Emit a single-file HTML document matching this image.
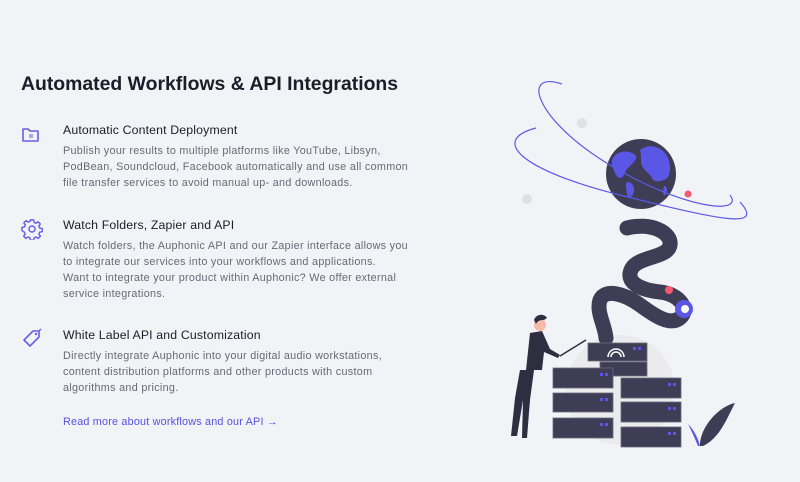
<!DOCTYPE html>
<html><head><meta charset="utf-8"><style>
html,body{margin:0;padding:0;width:800px;height:482px;background:#f2f3f6;overflow:hidden;font-family:"Liberation Sans",sans-serif;}
.t{position:absolute;left:21px;top:73px;font-size:19.4px;font-weight:bold;color:#1b1d2a;}
.h{position:absolute;left:63px;font-size:12.3px;color:#1b1d2a;letter-spacing:0.15px;white-space:nowrap;}
.p{position:absolute;left:63px;font-size:10.8px;line-height:16px;color:#676a78;white-space:nowrap;letter-spacing:0.3px;}
.ic{position:absolute;left:21px;}
a{position:absolute;left:63px;top:416px;font-size:10.8px;color:#5552e0;text-decoration:none;letter-spacing:0.2px;}
</style></head><body>
<div class="t">Automated Workflows &amp; API Integrations</div>

<svg class="ic" style="top:126px" width="20" height="18" viewBox="0 0 20 18"><path d="M2 3h5l2 2h8v10H2z" fill="none" stroke="#6460e8" stroke-width="1.6" stroke-linejoin="round"/><path d="M8 9h4M8 11h4" stroke="#6460e8" stroke-width="1"/></svg>
<div class="h" style="top:123px">Automatic Content Deployment</div>
<div class="p" style="top:143px">Publish your results to multiple platforms like YouTube, Libsyn,<br>PodBean, Soundcloud, Facebook automatically and use all common<br>file transfer services to avoid manual up- and downloads.</div>

<svg class="ic" style="top:218px" width="22" height="22" viewBox="0 0 24 24"><path d="M10.3 2h3.4l.6 2.8 2 .9 2.4-1.6 2.4 2.4-1.6 2.4.9 2 2.8.6v3.4l-2.8.6-.9 2 1.6 2.4-2.4 2.4-2.4-1.6-2 .9-.6 2.8h-3.4l-.6-2.8-2-.9-2.4 1.6-2.4-2.4 1.6-2.4-.9-2L1 13.7v-3.4l2.8-.6.9-2-1.6-2.4 2.4-2.4 2.4 1.6 2-.9z" fill="none" stroke="#6460e8" stroke-width="1.6" stroke-linejoin="round"/><circle cx="12" cy="12" r="3.3" fill="none" stroke="#6460e8" stroke-width="1.6"/></svg>
<div class="h" style="top:218px">Watch Folders, Zapier and API</div>
<div class="p" style="top:238px">Watch folders, the Auphonic API and our Zapier interface allows you<br>to integrate our services into your workflows and applications.<br>Want to integrate your product within Auphonic? We offer external<br>service integrations.</div>

<svg class="ic" style="top:328px" width="22" height="22" viewBox="0 0 22 22"><path d="M12 3h6v6L9 18l-6-6z" fill="none" stroke="#6460e8" stroke-width="1.6" stroke-linejoin="round"/><circle cx="15" cy="6" r="1.2" fill="#6460e8"/><path d="M18 3l2-2" stroke="#6460e8" stroke-width="1.4"/></svg>
<div class="h" style="top:328px">White Label API and Customization</div>
<div class="p" style="top:348px">Directly integrate Auphonic into your digital audio workstations,<br>content distribution platforms and other products with custom<br>algorithms and pricing.</div>

<a>Read more about workflows and our API →</a>

<svg style="position:absolute;left:0;top:0" width="800" height="482">
<circle cx="620" cy="390" r="55" fill="#ebebee"/>
<circle cx="582" cy="123" r="5" fill="#e0e0e3"/>
<circle cx="527" cy="199" r="5" fill="#e0e0e3"/>
<circle cx="688" cy="194" r="3.5" fill="#f55a6e"/>
<circle cx="641" cy="174" r="35" fill="#3f3d56"/>
<path d="M612 160c4-10 16-10 22-6s-2 10-6 14-4 10-8 10-6-8-8-12zM640 150c10-8 24-2 28 8s2 20-4 22-10 2-12-2-8-8-10-12 0-10-2-16zM628 182c4 0 8 6 5 12s-6 4-6 0-3-12 1-12zM664 186c3 0 4 4 2 8s-4 0-2-8z" fill="#5a57e6"/>
<g fill="none" stroke="#5c5ae6" stroke-width="1.2">
<path d="M562 84C520 70 535 120 610 165S745 215 730 195"/>
<path d="M536 128C490 140 520 170 620 195S765 230 740 202"/>
</g>
<path d="M627 228C650 222 672 232 670 245C668 258 640 256 632 268C624 282 640 290 660 292C680 294 690 310 680 318C670 326 655 316 640 305C625 294 605 288 600 300C596 312 605 325 606 338" fill="none" stroke="#3f3d56" stroke-width="15" stroke-linecap="round"/>
<circle cx="684" cy="309" r="9" fill="#5a57e6"/><circle cx="685" cy="309" r="4" fill="#fff"/>
<circle cx="669" cy="290" r="4" fill="#f55a6e"/>
<g fill="#3f3d56" stroke="#6b6a7a" stroke-width="0.8">
<rect x="588" y="343" width="59" height="18"/>
<rect x="600" y="362" width="47" height="14"/>
<rect x="553" y="368" width="60" height="20"/>
<rect x="553" y="393" width="60" height="19"/>
<rect x="553" y="418" width="60" height="20"/>
<rect x="621" y="378" width="60" height="20"/>
<rect x="621" y="402" width="60" height="20"/>
<rect x="621" y="427" width="60" height="20"/>
</g>
<path d="M608 357a8 8 0 0 1 16 0M611 357a5 5 0 0 1 10 0" fill="none" stroke="#fff" stroke-width="1.5"/>
<g fill="#5a57e6"><rect x="633" y="347" width="3" height="3"/><rect x="638" y="347" width="3" height="3"/><rect x="600" y="373" width="3" height="3"/><rect x="605" y="373" width="3" height="3"/><rect x="600" y="398" width="3" height="3"/><rect x="605" y="398" width="3" height="3"/><rect x="600" y="423" width="3" height="3"/><rect x="605" y="423" width="3" height="3"/><rect x="668" y="383" width="3" height="3"/><rect x="673" y="383" width="3" height="3"/><rect x="668" y="407" width="3" height="3"/><rect x="673" y="407" width="3" height="3"/><rect x="668" y="432" width="3" height="3"/><rect x="673" y="432" width="3" height="3"/></g>
<path d="M700 446c0-20 20-40 35-43-8 15-15 35-32 43z" fill="#3f3d56"/>
<path d="M698 446c-4-10-8-18-10-22 6 6 10 14 12 22z" fill="#5a57e6"/>
<circle cx="540" cy="325" r="6" fill="#f9b9a8"/>
<path d="M534 320c2-6 10-7 13-2l-3 2c-3 0-6 0-8 4z" fill="#2f2e41"/>
<path d="M530 333l12-2 8 18 10 6-2 3-14-6-2 18h-16z" fill="#2f2e41"/>
<path d="M520 370h14l-4 30-3 38h-5l1-38-6 36h-6l4-38z" fill="#2f2e41"/>
<path d="M560 356l26-16" stroke="#2f2e41" stroke-width="1.5"/>
</svg>
</body></html>
